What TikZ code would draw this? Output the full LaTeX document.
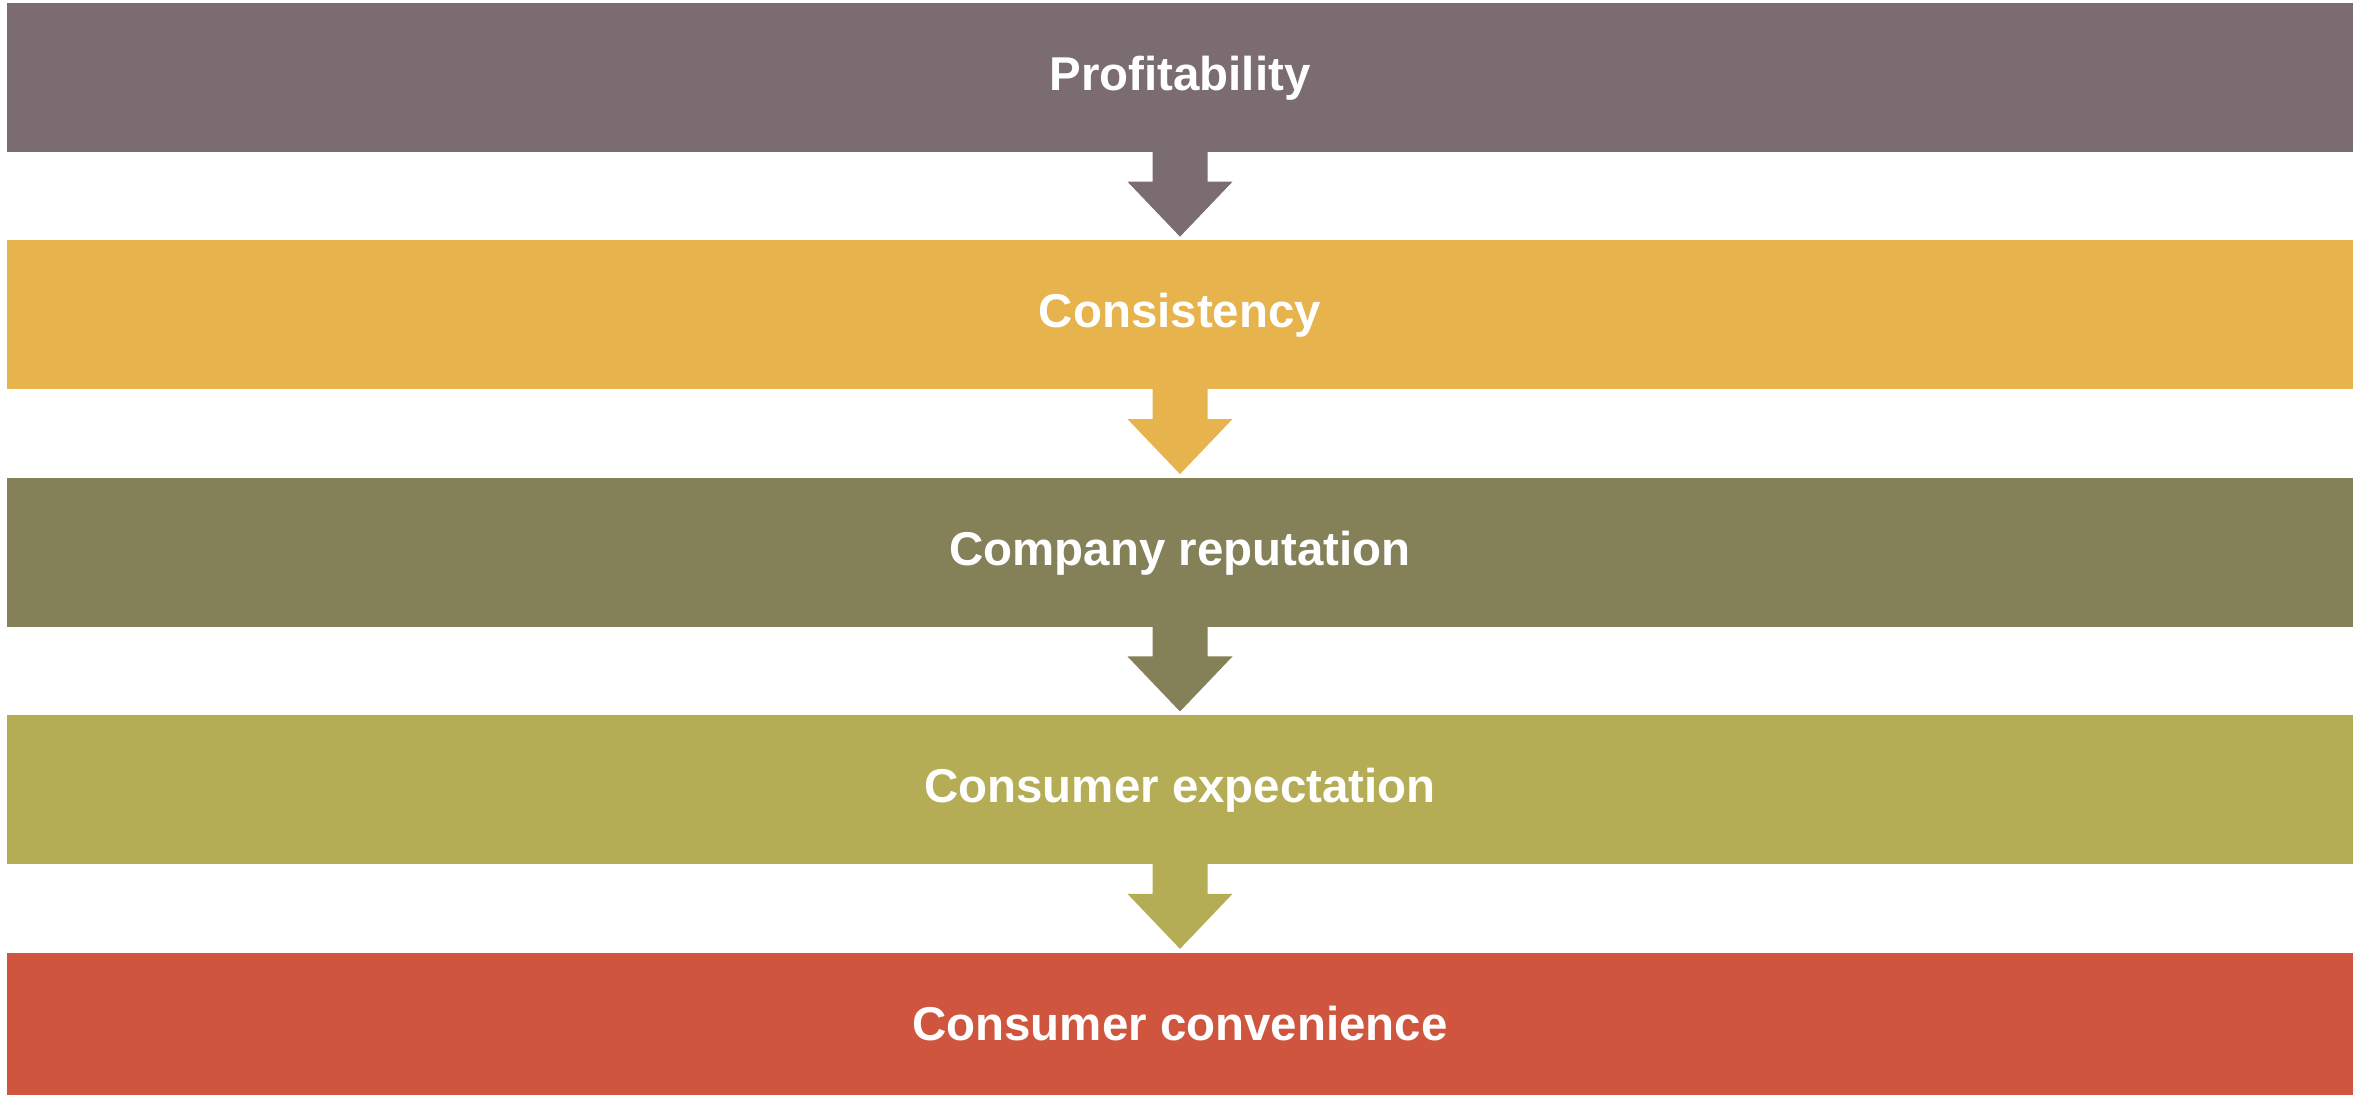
\documentclass[tikz,border=0pt]{standalone}
\usepackage{fontspec}
\setmainfont{Liberation Sans}
\usetikzlibrary{positioning,calc}
\definecolor{profit}{RGB}{122,108,112}
\definecolor{consist}{RGB}{230,179,77}
\definecolor{reput}{RGB}{132,128,88}
\definecolor{expect}{RGB}{181,173,85}
\definecolor{conven}{RGB}{207,85,62}
\begin{document}
\begin{tikzpicture}[bar/.style={minimum width=23.45cm, minimum height=1.49cm, inner sep=0pt,
    text=white, font=\fontsize{13.5}{16}\selectfont\bfseries, text height=0.74em, text depth=0pt},
  node distance=0.87cm]
\useasboundingbox (0,0) rectangle (23.54,10.95);
\node[bar, fill=profit] (b1) at (11.80,10.175) {Profitability};
\node[bar, fill=consist, below=of b1] (b2) {Consistency};
\node[bar, fill=reput, below=of b2] (b3) {Company reputation};
\node[bar, fill=expect, below=of b3] (b4) {Consumer expectation};
\node[bar, fill=conven, below=of b4] (b5) {Consumer convenience};

% block arrows between the bars
\foreach \a/\c in {b1/profit, b2/consist, b3/reput, b4/expect}{
  \fill[\c] ($(\a.south)+(-0.275,0.03)$) -- ++(0,-0.32) -- ++(-0.25,0) -- ($(\a.south)+(0,-0.84)$)
    -- ($(\a.south)+(0.525,-0.29)$) -- ++(-0.25,0) -- ++(0,0.32) -- cycle;
}
\end{tikzpicture}
\end{document}
